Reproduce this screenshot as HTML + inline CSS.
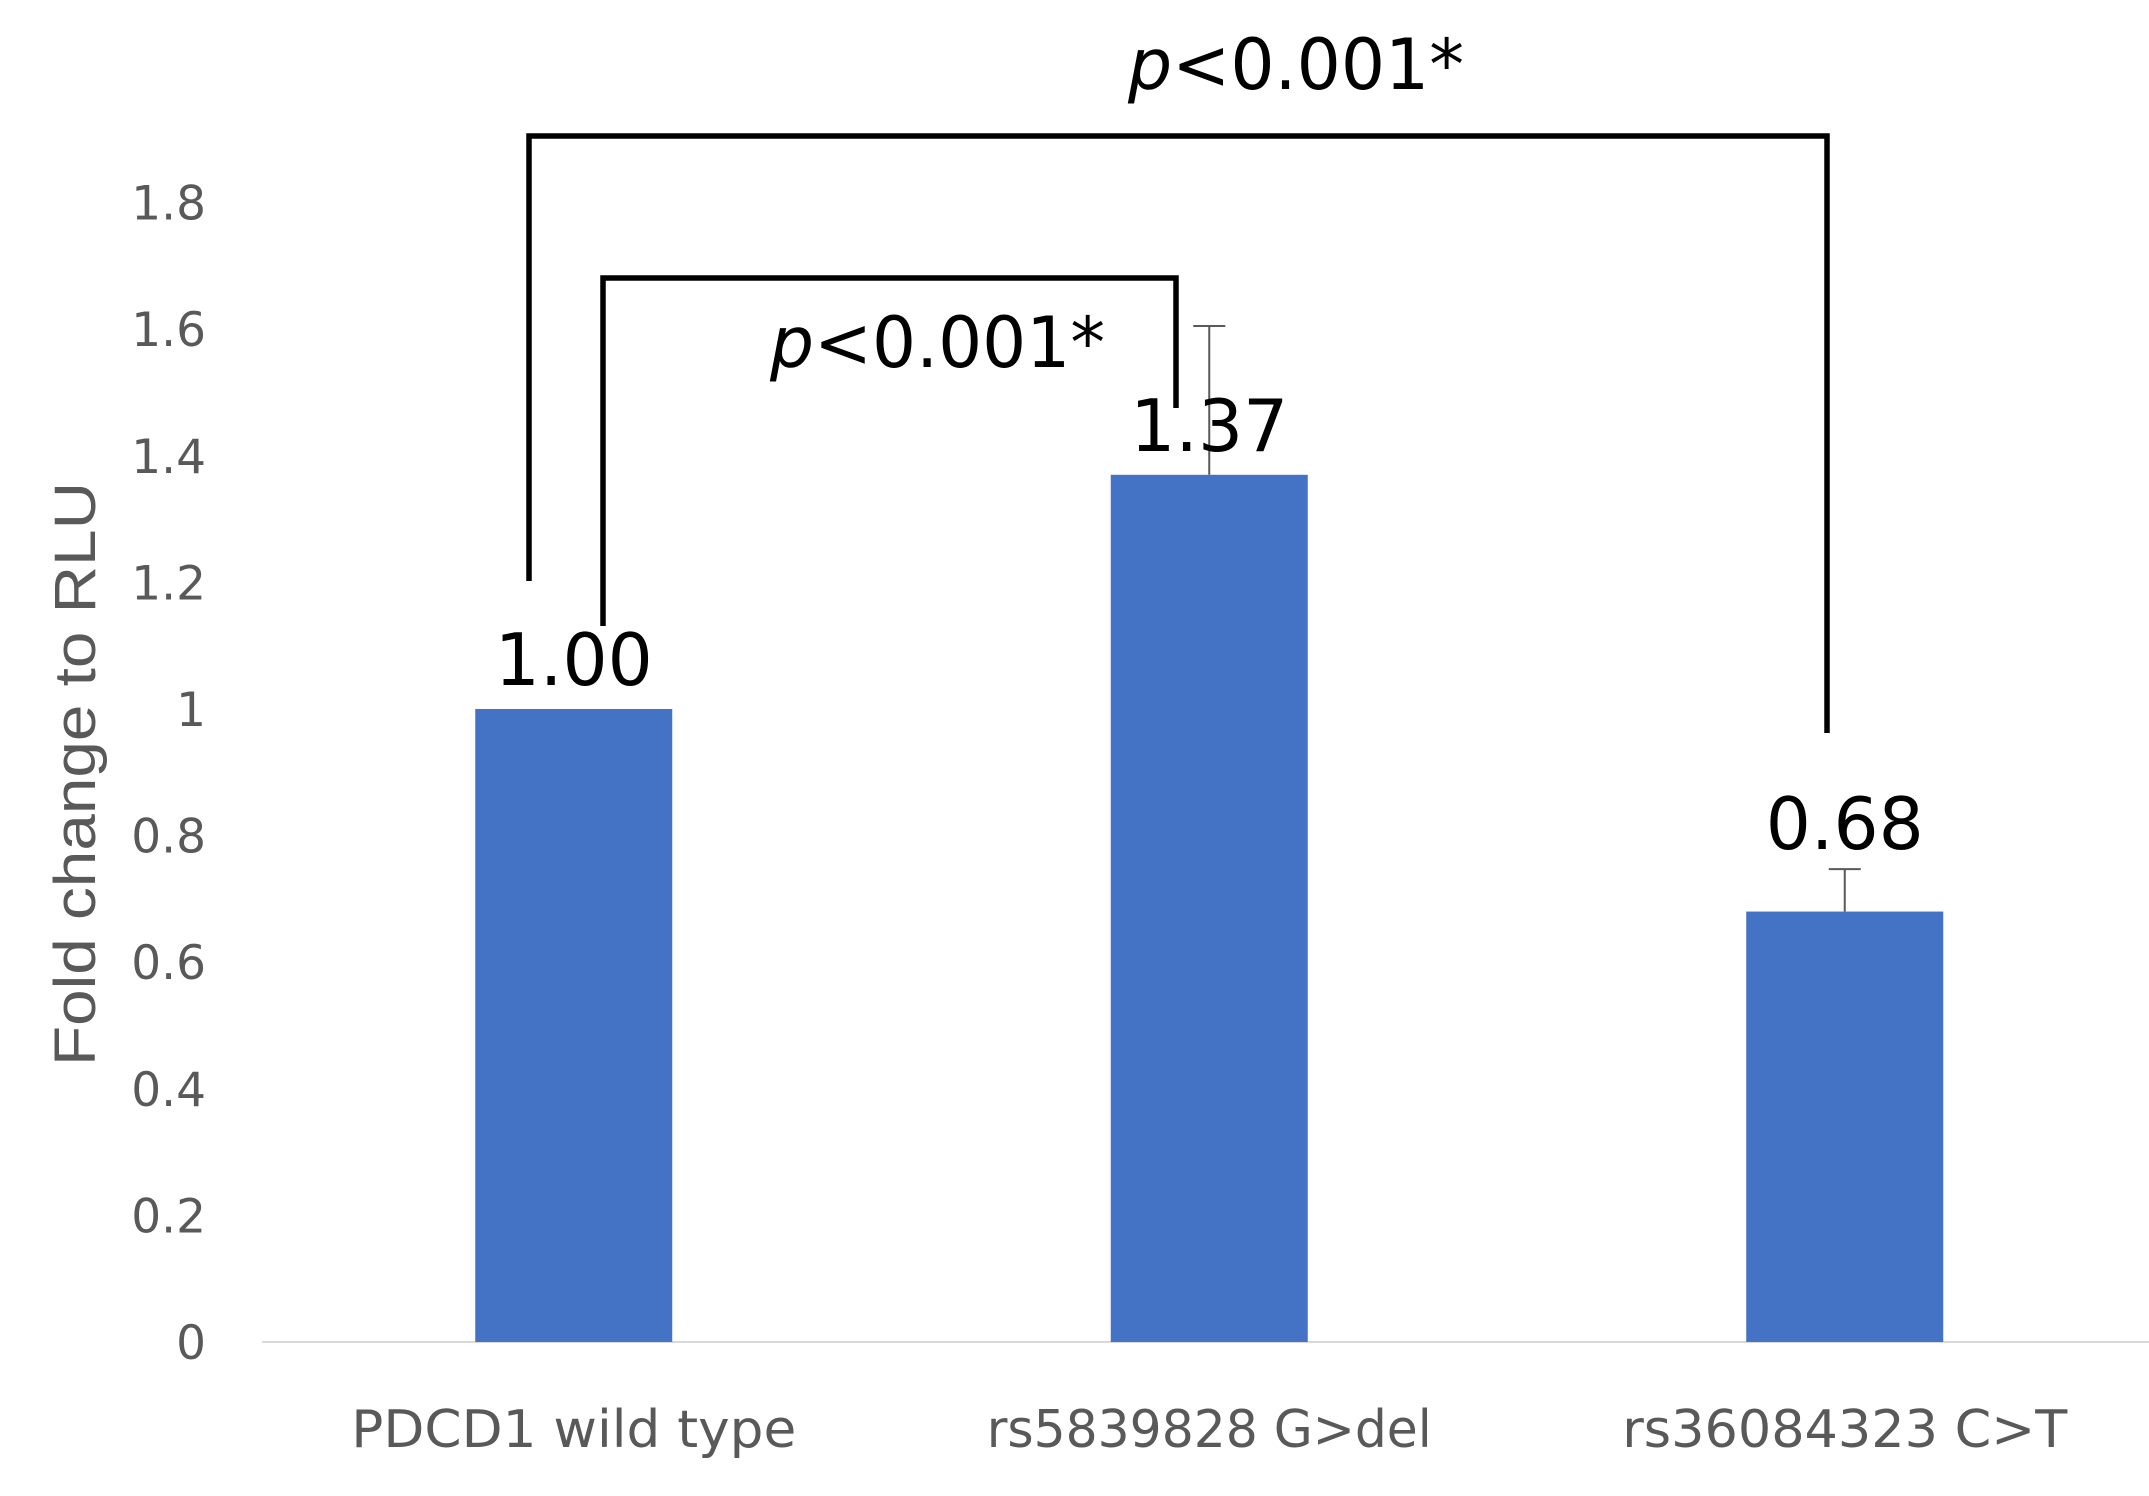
<!DOCTYPE html>
<html><head><meta charset="utf-8"><style>
html,body{margin:0;padding:0;background:#fff;}
svg{display:block;}
</style></head><body>
<svg id="chart" width="2149" height="1496" viewBox="0 0 2149 1496" xmlns="http://www.w3.org/2000/svg">
<rect width="2149" height="1496" fill="#fff"/>
<g id="grid"></g>
<g id="bars"></g>
<text transform="translate(95,774) rotate(-90)" text-anchor="middle" font-family="Liberation Sans, sans-serif" font-size="58" fill="#595959" textLength="584" lengthAdjust="spacingAndGlyphs">Fold change to RLU</text>
<g fill="none" stroke="#000" stroke-width="5.5">
<polyline points="529,581 529,136 1827,136 1827,733"/>
</g>
<g fill="none" stroke="#000" stroke-width="5.5">
<polyline points="603,626 603,278 1176,278 1176,408"/>
</g>
<text x="1128" y="89" font-family="DejaVu Sans, sans-serif" font-size="70" fill="#000" textLength="336" lengthAdjust="spacingAndGlyphs"><tspan font-style="italic">p</tspan>&lt;0.001*</text>
<text x="770" y="367" font-family="DejaVu Sans, sans-serif" font-size="70" fill="#000" textLength="335" lengthAdjust="spacingAndGlyphs"><tspan font-style="italic">p</tspan>&lt;0.001*</text>
</svg>
<script>
const categories = ["PDCD1 wild type", "rs5839828 G>del", "rs36084323 C>T"];
const values = [1.00, 1.37, 0.68];
const errors = [0, 0.235, 0.067];
const valueLabels = ["1.00", "1.37", "0.68"];
const yTicks = [0, 0.2, 0.4, 0.6, 0.8, 1, 1.2, 1.4, 1.6, 1.8];
const yTickLabels = ["0", "0.2", "0.4", "0.6", "0.8", "1", "1.2", "1.4", "1.6", "1.8"];

const NS = "http://www.w3.org/2000/svg";
const plotLeft = 256, bandW = 635.5, baseY = 1342, pxPerUnit = 633;
const barW = 197;
function y(v){ return baseY - v * pxPerUnit; }
function xc(i){ return plotLeft + bandW * (i + 0.5); }
function mk(tag, attrs, parent){
  const e = document.createElementNS(NS, tag);
  for (const k in attrs) e.setAttribute(k, attrs[k]);
  parent.appendChild(e);
  return e;
}
const grid = document.getElementById('grid');
const bars = document.getElementById('bars');

yTicks.forEach((t, i) => {
  const tx = mk('text', {x: 206, y: y(t) + 17, 'text-anchor': 'end', 'font-family': 'DejaVu Sans, sans-serif', 'font-size': 47, fill: '#595959'}, grid);
  
  
  tx.textContent = yTickLabels[i];
});
const axis = mk('line', {x1: 262, x2: 2149, y1: baseY, y2: baseY, stroke: '#d9d9d9', 'stroke-width': 2}, grid);



categories.forEach((c, i) => {
  const cx = xc(i);
  const r = mk('rect', {x: cx - barW/2, y: y(values[i]), width: barW, height: values[i] * pxPerUnit, fill: '#4472c4'}, bars);
  
  
  let labelY = y(values[i]) - 24;
  if (errors[i] > 0) {
    const top = y(values[i] + errors[i]);
    const eb = mk('path', {d: `M${cx},${y(values[i])} V${top} M${cx-16},${top} H${cx+16}`, stroke: '#595959', 'stroke-width': 2, fill: 'none'}, bars);
    
    
    if (errors[i] < 0.1) labelY = top - 20;
  }
  const vl = mk('text', {x: cx, y: labelY, 'text-anchor': 'middle', 'font-family': 'DejaVu Sans, sans-serif', 'font-size': 72, fill: '#000', textLength: 158, lengthAdjust: 'spacingAndGlyphs'}, bars);
  
  
  vl.textContent = valueLabels[i];
  const cl = mk('text', {x: cx, y: 1447, 'text-anchor': 'middle', 'font-family': 'DejaVu Sans, sans-serif', 'font-size': 52, fill: '#595959', textLength: 445, lengthAdjust: 'spacingAndGlyphs'}, bars);
  
  
  cl.textContent = c;
});
</script>
</body></html>
